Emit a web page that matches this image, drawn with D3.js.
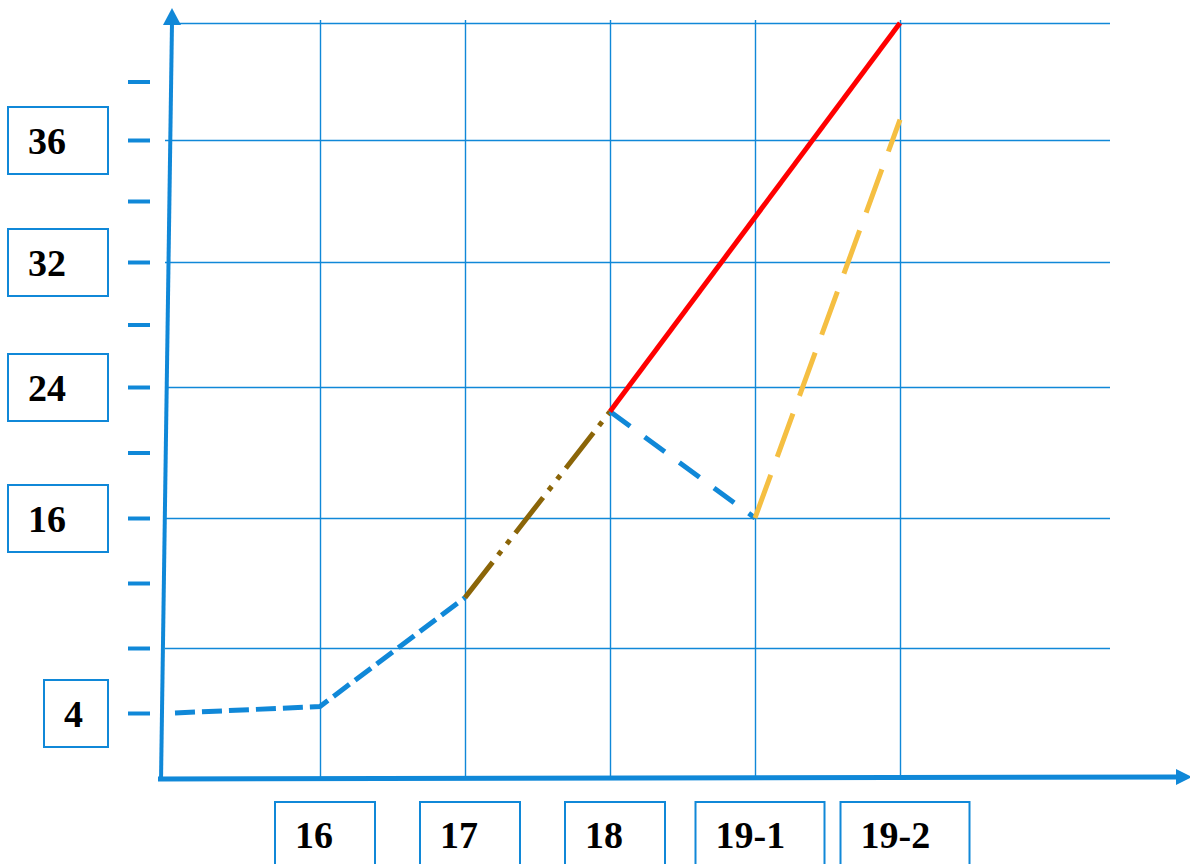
<!DOCTYPE html>
<html><head><meta charset="utf-8">
<script src="https://cdn.jsdelivr.net/npm/d3@7"></script>
<style>html,body{margin:0;padding:0;background:#fff;} svg{display:block}</style>
</head><body>
<svg id="chart" width="1190" height="864"></svg>
<script>
// ---- data ----
const categories = ["start", "16", "17", "18", "19-1", "19-2"];
const xTickLabels = ["16", "17", "18", "19-1", "19-2"];
const yLabelValues = [4, 16, 24, 32, 36];
const yMinorTicks = [4, 8, 12, 16, 20, 24, 28, 32, 34, 36, 38];
const yGridValues = [8, 16, 24, 32, 36, 40];
const yBreaks = [0, 4, 16, 24, 32, 36, 40];

const blueRiseCats = ["start", "16", "17"];
const blueRiseValues = [4, 4.4, 11.1];
const brownCats = ["17", "18"];
const brownValues = [11.1, 22.5];
const blueDropCats = ["18", "19-1"];
const blueDropValues = [22.5, 16];
const redCats = ["18", "19-2"];
const redValues = [22.5, 40];
const yellowCats = ["19-1", "19-2"];
const yellowValues = [16, 36.7];

// ---- layout ----
const BLUE = "#1088d8";
const svg = d3.select("#chart");
const x = d3.scalePoint().domain(categories).range([175, 900]);
const y = d3.scaleLinear().domain(yBreaks).range([778, 713, 518, 387, 262, 140, 23]);

// horizontal grid
const hg = svg.append("g").attr("transform", "translate(165,0)")
  .call(d3.axisLeft(y).tickValues(yGridValues).tickSize(-945).tickFormat(""));
hg.select(".domain").remove();
hg.selectAll(".tick line").attr("stroke", BLUE).attr("stroke-width", 1.4);

// vertical grid
const vg = svg.append("g").attr("transform", "translate(0,778)")
  .call(d3.axisBottom(x).tickValues(xTickLabels).tickSize(-758).tickFormat(""));
vg.select(".domain").remove();
vg.selectAll(".tick line").attr("stroke", BLUE).attr("stroke-width", 1.4);

// minor tick marks on the left
const mt = svg.append("g").attr("transform", "translate(150,0)")
  .call(d3.axisLeft(y).tickValues(yMinorTicks).tickSize(22).tickFormat(""));
mt.select(".domain").remove();
mt.selectAll(".tick line").attr("stroke", BLUE).attr("stroke-width", 4);

// axes (hand-drawn look)
svg.append("line").attr("x1", 161).attr("y1", 781).attr("x2", 172).attr("y2", 22)
  .attr("stroke", BLUE).attr("stroke-width", 4);
svg.append("path").attr("d", "M172,8 L163,25 L181,25 Z").attr("fill", BLUE);
svg.append("line").attr("x1", 158).attr("y1", 779).attr("x2", 1178).attr("y2", 777)
  .attr("stroke", BLUE).attr("stroke-width", 5);
svg.append("path").attr("d", "M1192,777 L1176,769 L1176,785 Z").attr("fill", BLUE);

// series
const line = d3.line().x(d => x(d.c)).y(d => y(d.v));
const zip = (cs, vs) => cs.map((c, i) => ({c, v: vs[i]}));
const series = [
  {pts: zip(blueRiseCats, blueRiseValues), color: BLUE, dash: "20,7"},
  {pts: zip(brownCats, brownValues), color: "#8b6508", dash: "45,9,5,9,5,9"},
  {pts: zip(blueDropCats, blueDropValues), color: BLUE, dash: "25,18"},
  {pts: zip(yellowCats, yellowValues), color: "#f5bf42", dash: "46,19"},
  {pts: zip(redCats, redValues), color: "#ff0000", dash: null}
];
svg.append("g").selectAll("path").data(series).join("path")
  .attr("d", d => line(d.pts))
  .attr("fill", "none")
  .attr("stroke", d => d.color)
  .attr("stroke-width", 5)
  .attr("stroke-dasharray", d => d.dash);

// label boxes
const boxW = t => t.length === 1 ? 64 : (t.length === 2 ? 100 : 129);
const font = "'Liberation Serif','Times New Roman',serif";

const yl = svg.append("g").selectAll("g").data(yLabelValues).join("g")
  .attr("transform", d => `translate(${108 - boxW(String(d))},${y(d) - 33})`);
yl.append("rect").attr("width", d => boxW(String(d))).attr("height", 67)
  .attr("fill", "#fff").attr("stroke", BLUE).attr("stroke-width", 2);
yl.append("text").attr("x", 20).attr("y", 47).text(d => d)
  .attr("font-family", font).attr("font-weight", "bold").attr("font-size", 38).attr("fill", "#000");

const xl = svg.append("g").selectAll("g").data(xTickLabels).join("g")
  .attr("transform", d => `translate(${x(d) + 5 - boxW(d) / 2},802)`);
xl.append("rect").attr("width", d => boxW(d)).attr("height", 67)
  .attr("fill", "#fff").attr("stroke", BLUE).attr("stroke-width", 2);
xl.append("text").attr("x", 20).attr("y", 46).text(d => d)
  .attr("font-family", font).attr("font-weight", "bold").attr("font-size", 38).attr("fill", "#000");
</script>
</body></html>
